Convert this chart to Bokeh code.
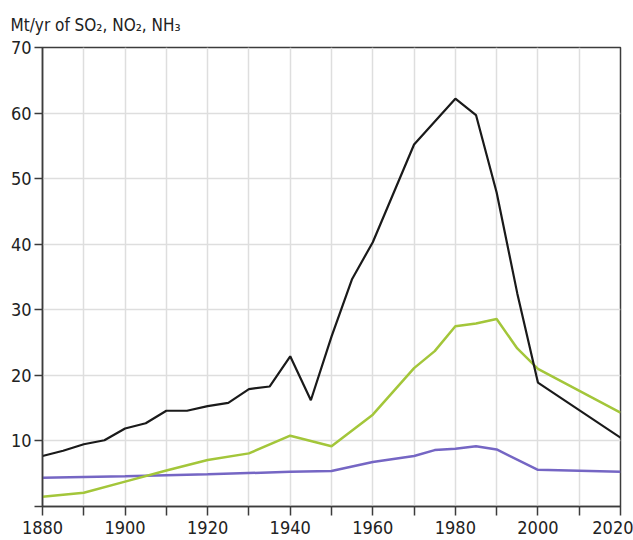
from bokeh.plotting import figure
from bokeh.models import FixedTicker, Title
from bokeh.embed import file_html
from bokeh.resources import INLINE

# SO2 (black)
so2_years = [1880, 1885, 1890, 1895, 1900, 1905, 1910, 1915, 1920, 1925, 1930, 1935,
             1940, 1945, 1950, 1955, 1960, 1970, 1980, 1985, 1990, 1995, 2000, 2020]
so2_vals = [7.7, 8.5, 9.5, 10.1, 11.9, 12.7, 14.6, 14.6, 15.3, 15.8, 17.9, 18.3,
            22.9, 16.2, 25.9, 34.7, 40.3, 55.2, 62.2, 59.7, 47.9, 32.5, 18.9, 10.5]

# NO2 (green)
no2_years = [1880, 1890, 1900, 1910, 1920, 1930, 1940, 1950, 1960, 1970, 1975,
             1980, 1985, 1990, 1995, 2000, 2020]
no2_vals = [1.5, 2.1, 3.8, 5.5, 7.1, 8.1, 10.8, 9.2, 14.0, 21.1, 23.7,
            27.5, 27.9, 28.6, 24.1, 21.0, 14.3]

# NH3 (purple)
nh3_years = [1880, 1900, 1920, 1940, 1950, 1960, 1970, 1975, 1980, 1985, 1990, 2000, 2020]
nh3_vals = [4.4, 4.6, 4.9, 5.3, 5.4, 6.8, 7.7, 8.6, 8.8, 9.2, 8.7, 5.6, 5.3]

y_ticks = [0, 10, 20, 30, 40, 50, 60, 70]
x_major = [1880, 1900, 1920, 1940, 1960, 1980, 2000, 2020]
x_minor = [1890, 1910, 1930, 1950, 1970, 1990, 2010]

FONT = "DejaVu Sans Condensed"
AXIS_COLOR = "#3c3c3c"

p = figure(width=633, height=540, output_backend="svg", toolbar_location=None,
           x_range=(1880, 2020), y_range=(0, 70),
           min_border_left=42, min_border_right=13, min_border_top=46, min_border_bottom=34)

p.add_layout(Title(text="Mt/yr of SO\u2082, NO\u2082, NH\u2083", align="left", offset=-32,
                   text_font=FONT, text_font_size="17px", text_font_style="normal",
                   text_color="#222222", standoff=25), "above")

p.outline_line_color = AXIS_COLOR
p.outline_line_width = 1.5
p.outline_line_alpha = 1.0
p.background_fill_color = "white"
p.border_fill_color = "white"

# axes
p.xaxis.ticker = FixedTicker(ticks=x_major, minor_ticks=x_minor)
p.yaxis.ticker = FixedTicker(ticks=y_ticks)
p.yaxis.major_label_overrides = {0: ""}
for ax in (p.xaxis[0], p.yaxis[0]):
    ax.axis_line_color = AXIS_COLOR
    ax.axis_line_width = 1.5
    ax.major_tick_line_color = AXIS_COLOR
    ax.major_tick_line_width = 1.5
    ax.minor_tick_line_color = AXIS_COLOR
    ax.minor_tick_line_width = 1.5
    ax.major_label_text_font = FONT
    ax.major_label_text_font_size = "18px"
    ax.major_label_text_color = "#222222"
p.xaxis.major_tick_in = 0
p.xaxis.major_tick_out = 9
p.xaxis.minor_tick_in = 0
p.xaxis.minor_tick_out = 9
p.xaxis.major_label_standoff = 5
p.yaxis.major_tick_in = 0
p.yaxis.major_tick_out = 8
p.yaxis.minor_tick_line_color = None
p.yaxis.major_label_standoff = 3

# grid
p.xgrid.ticker = FixedTicker(ticks=x_major + x_minor)
p.ygrid.ticker = FixedTicker(ticks=y_ticks[1:])
for g in (p.xgrid[0], p.ygrid[0]):
    g.grid_line_color = "#dedede"
    g.grid_line_width = 1.5

p.line(nh3_years, nh3_vals, line_color="#7566c4", line_width=2.5)
p.line(no2_years, no2_vals, line_color="#a3c63a", line_width=2.5)
p.line(so2_years, so2_vals, line_color="#1a1a1a", line_width=2.2)

open("out.html", "w").write(file_html(p, INLINE))
